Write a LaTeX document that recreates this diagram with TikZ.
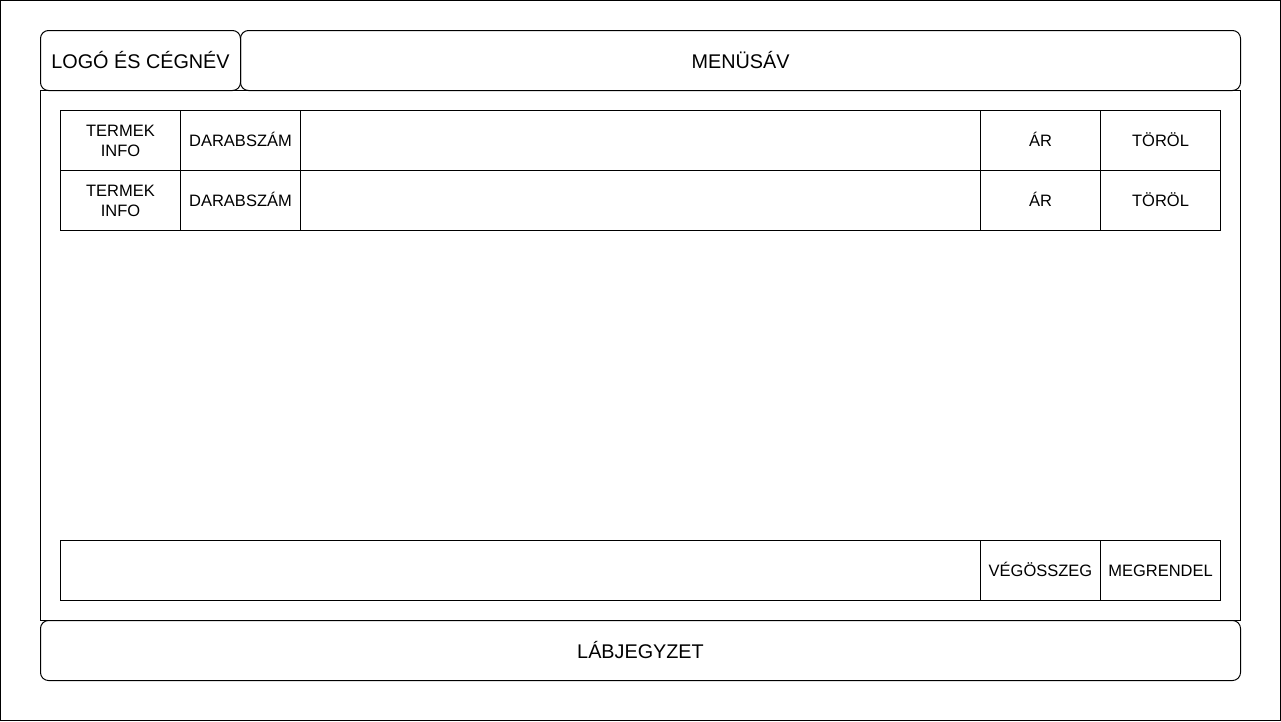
\documentclass[tikz,border=0pt]{standalone}
\usepackage{fontspec}
\setmainfont{Liberation Sans}
\tikzset{
  box/.style={draw=black, line width=1pt},
  rbox/.style={box, rounded corners=8pt},
  big/.style={font=\fontsize{19.8}{23}\selectfont, text height=14pt, text depth=0pt},
  small/.style={font=\fontsize{16.5}{20}\selectfont, text height=12pt, text depth=0pt},
  two/.style={font=\fontsize{16.5}{20}\selectfont, align=center},
}
\begin{document}
\begin{tikzpicture}[x=1pt,y=-1pt]
\useasboundingbox (0,0) rectangle (1281,721);
\draw[box] (0.5,0.5) rectangle (1280.5,720.5);
% header
\draw[rbox] (40.5,30.5) rectangle (240.5,90.5);
\node[big] (logo) at (140.5,61.5) {LOGÓ ÉS CÉGNÉV};
\draw[rbox] (240.5,30.5) rectangle (1240.5,90.5);
\node[big] (menu) at (740.5,61.5) {MENÜSÁV};
% main
\draw[box] (40.5,90.5) rectangle (1240.5,620.5);
% rows
\foreach \y/\n in {110.5/1,170.5/2}{
  \draw[box] (60.5,\y) rectangle (180.5,\y+60);
  \draw[box] (180.5,\y) rectangle (300.5,\y+60);
  \draw[box] (300.5,\y) rectangle (980.5,\y+60);
  \draw[box] (980.5,\y) rectangle (1100.5,\y+60);
  \draw[box] (1100.5,\y) rectangle (1220.5,\y+60);
  \node[two] (info\n) at (120.5,\y+30.5) {TERMEK\\INFO};
  \node[small] (db\n) at (240.5,\y+30) {DARABSZÁM};
  \node[small] (ar\n) at (1040.5,\y+30) {ÁR};
  \node[small] (torol\n) at (1160.5,\y+30) {TÖRÖL};
}
% bottom row
\draw[box] (60.5,540.5) rectangle (980.5,600.5);
\draw[box] (980.5,540.5) rectangle (1100.5,600.5);
\draw[box] (1100.5,540.5) rectangle (1220.5,600.5);
\node[small] (veg) at (1040.5,570.5) {VÉGÖSSZEG};
\node[small] (meg) at (1160.5,570.5) {MEGRENDEL};
% footer
\draw[rbox] (40.5,620.5) rectangle (1240.5,680.5);
\node[big] (lab) at (640.5,651.5) {LÁBJEGYZET};
\end{tikzpicture}
\end{document}
